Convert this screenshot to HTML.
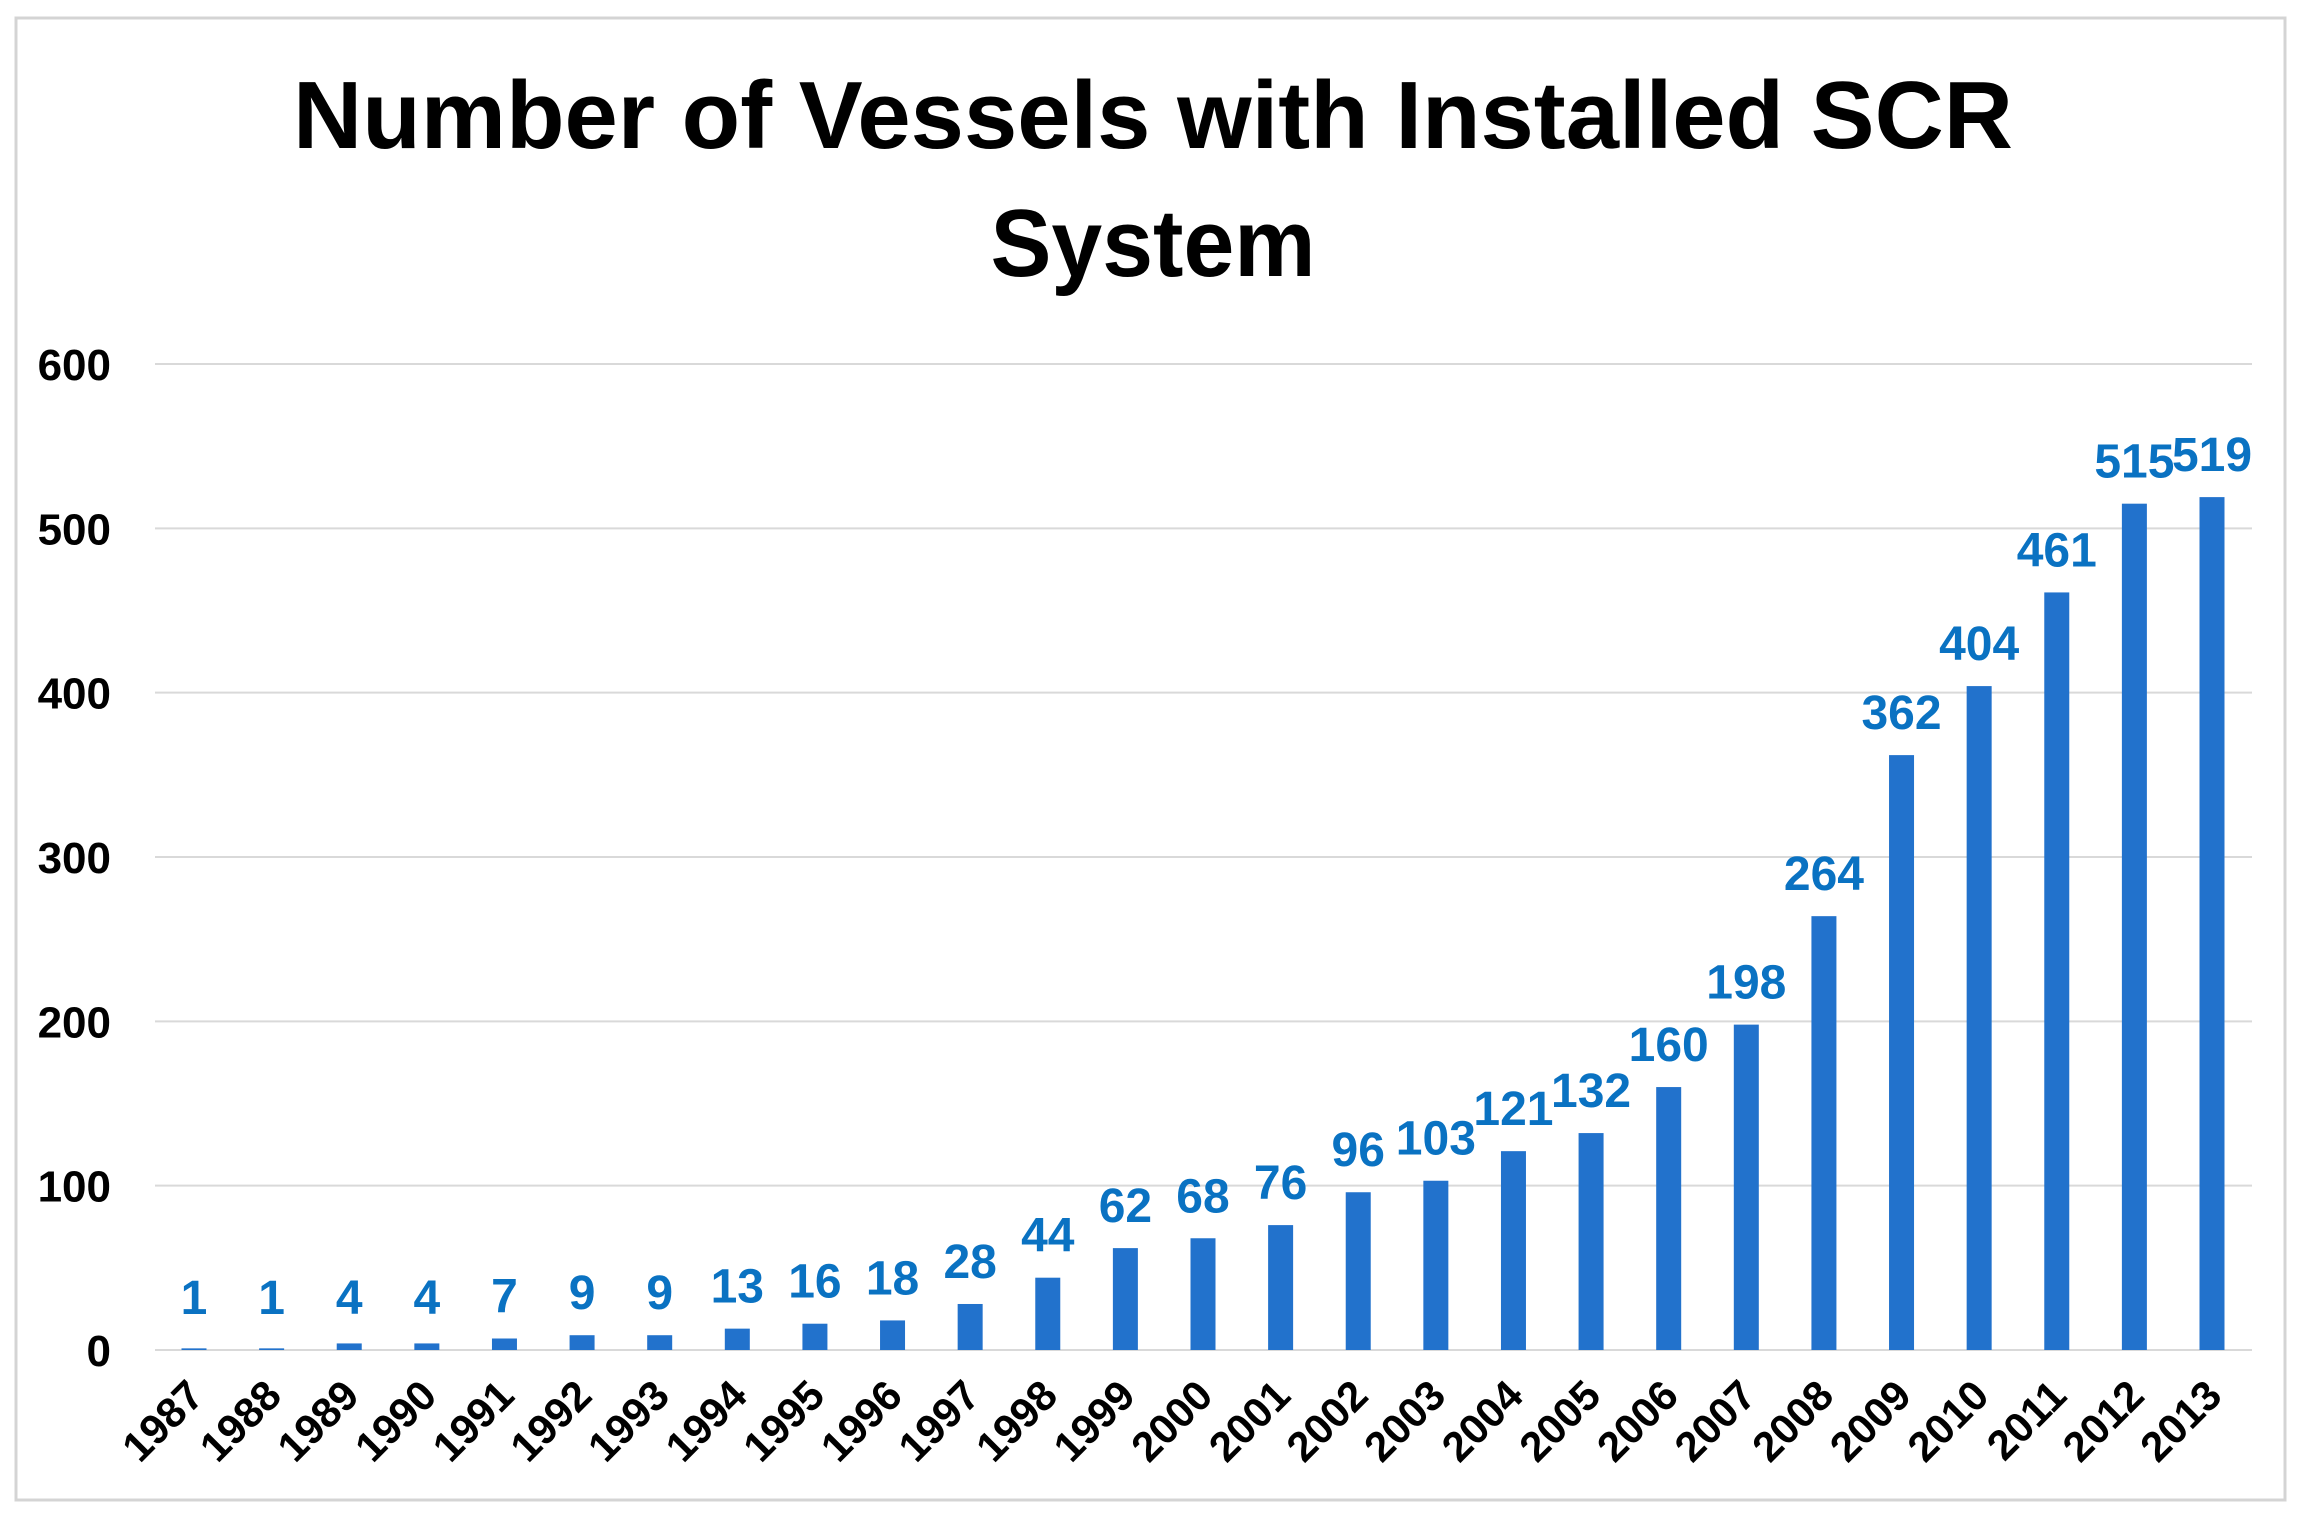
<!DOCTYPE html>
<html><head><meta charset="utf-8"><style>
html,body{margin:0;padding:0;background:#fff;}
svg{display:block;font-family:"Liberation Sans",sans-serif;}
</style></head><body>
<svg id="chart" width="2306" height="1520" viewBox="0 0 2306 1520">
<rect x="16" y="18" width="2269" height="1482" fill="#fff" stroke="#d4d4d4" stroke-width="3"/>
<text x="1153" y="148" text-anchor="middle" font-size="96" font-weight="bold" textLength="1720" lengthAdjust="spacingAndGlyphs">Number of Vessels with Installed SCR</text>
<text x="1153" y="276" text-anchor="middle" font-size="96" font-weight="bold" textLength="325" lengthAdjust="spacingAndGlyphs">System</text>
<g id="grid"></g><g id="bars"></g><g id="labels"></g>
</svg>
<script>
const years = ["1987","1988","1989","1990","1991","1992","1993","1994","1995","1996","1997","1998","1999","2000","2001","2002","2003","2004","2005","2006","2007","2008","2009","2010","2011","2012","2013"];
const values = [1,1,4,4,7,9,9,13,16,18,28,44,62,68,76,96,103,121,132,160,198,264,362,404,461,515,519];
const yTicks = [0,100,200,300,400,500,600];

const NS = "http://www.w3.org/2000/svg";
const plotL = 155, plotR = 2252, y0 = 1350, y600 = 364;
const firstX = 194, lastX = 2212;
function yScale(v){ return y0 - (v/600)*(y0 - y600); }
function xScale(i){ return firstX + i*(lastX-firstX)/(years.length-1); }
function mk(tag, attrs, parent){ const e=document.createElementNS(NS,tag); for(const k in attrs) e.setAttribute(k,attrs[k]); parent.appendChild(e); return e; }
const grid=document.getElementById('grid'), bars=document.getElementById('bars'), labels=document.getElementById('labels');
yTicks.forEach(t=>{
  const y=yScale(t);
  const l=mk('line',{x1:plotL,x2:plotR,y1:y,y2:y,stroke:'#d9d9d9','stroke-width':2},grid);
  
  
  const tx=mk('text',{x:111,y:y+16,'text-anchor':'end','font-size':44,'font-weight':'bold',fill:'#000'},grid);
  tx.textContent=t;
  
  
});
const bw=25;
years.forEach((yr,i)=>{
  const x=xScale(i), v=values[i], top=yScale(v);
  const r=mk('rect',{x:x-bw/2,y:top,width:bw,height:y0-top,fill:'#2272cc'},bars);
  
  
  const vl=mk('text',{x:x,y:Math.min(top-10,y0-20)-16,'text-anchor':'middle','font-size':48,'font-weight':'bold',fill:'#0a72c2'},labels);
  vl.textContent=v;
  
  
  const xl=mk('text',{x:x+12,y:y0+48,'text-anchor':'end','font-size':42,'font-weight':'bold',fill:'#000',transform:`rotate(-45 ${x+12} ${y0+48})`},labels);
  xl.textContent=yr;
  
  
});
</script>
</body></html>
